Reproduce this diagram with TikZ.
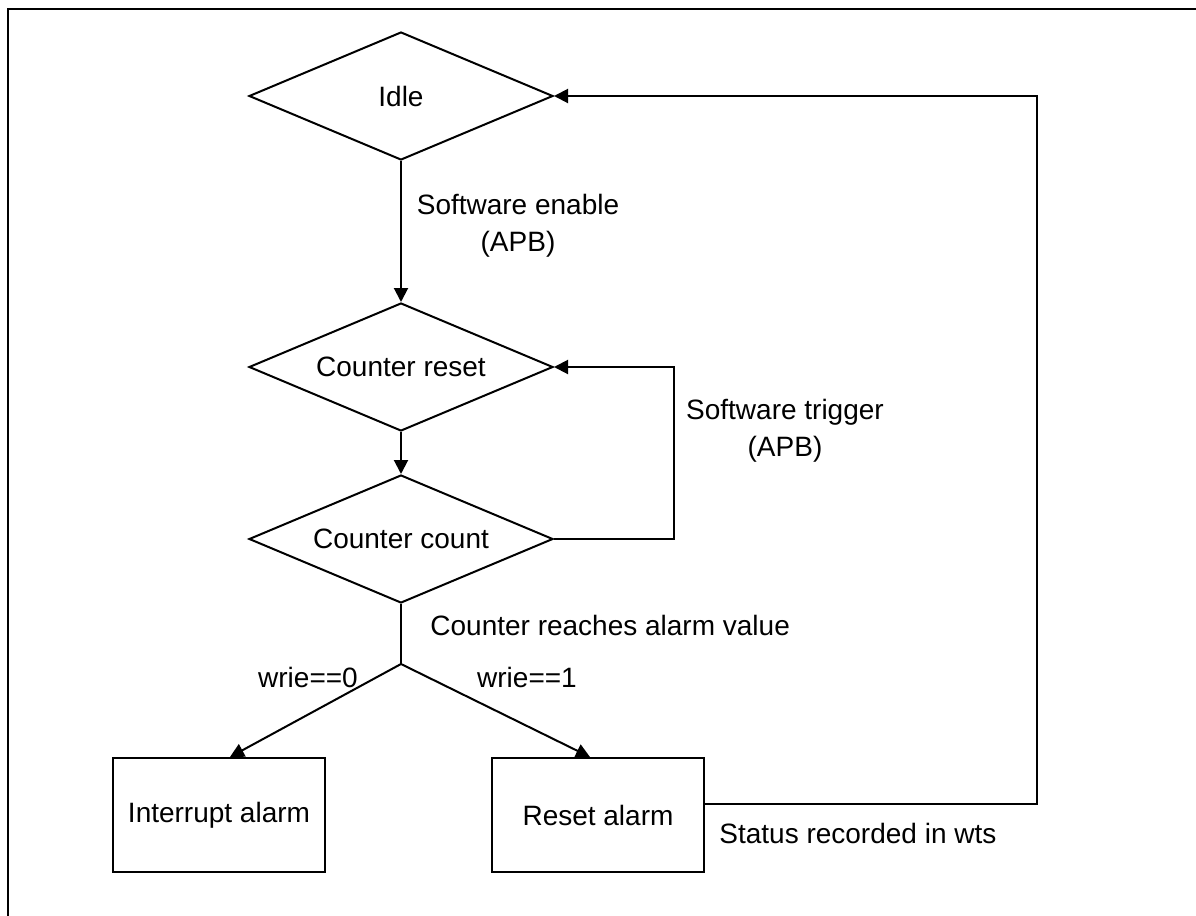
\documentclass[tikz,border=0pt]{standalone}
\usepackage{fontspec}
\setmainfont{Liberation Sans}
\usetikzlibrary{shapes.geometric,arrows.meta}
\tikzset{
  dia/.style={diamond, draw, line width=1pt, minimum width=152pt, minimum height=64pt, inner sep=0pt, aspect=2.375},
  stbox/.style={rectangle, draw, line width=1pt, minimum width=106pt, minimum height=57pt, inner sep=0pt},
  conn/.style={line width=1pt},
  arr/.style={conn, -{Triangle[length=7pt,width=7pt]}},
  lbl/.style={inner sep=0pt, align=center},
}
\begin{document}
\begin{tikzpicture}[x=0.5pt,y=-0.5pt,font=\fontsize{14}{18.5}\selectfont]
\useasboundingbox (0,0) rectangle (1196,916);
\clip (0,0) rectangle (1196,916);
\draw[line width=1.2pt] (8,9) rectangle (1300,1100);

\node[dia] (idle) at (401,96) {Idle};
\node[dia] (creset) at (401,367) {Counter reset};
\node[dia] (ccount) at (401,539) {Counter count};
\coordinate (j) at (401,664);
\node[stbox] (intr) at (219,815) {Interrupt alarm};
\node[stbox] (rst) at (598,815) {Reset alarm};

\coordinate (trig) at (674,539);
\coordinate (stat) at (1037,803.5);

\draw[arr] (idle.south) -- (creset.north);
\draw[arr] (creset.south) -- (ccount.north);
\draw[arr] (ccount.east) -- (trig) |- (creset.east);
\draw[conn] (ccount.south) -- (j);
\draw[arr] (j) -- ([xshift=5.5pt]intr.north);
\draw[arr] (j) -- ([xshift=-4pt]rst.north);
\draw[arr] ([yshift=5.75pt]rst.east) -- (stat) |- (idle.east);

\node[lbl] (l1) at (518,226) {Software enable\\(APB)};
\node[lbl] (l2) at (785,431) {Software trigger\\(APB)};
\node[lbl, anchor=west] (l3) at (430,625) {Counter reaches alarm value};
\node[lbl] (l4) at (308,677) {wrie==0};
\node[lbl] (l5) at (527,677) {wrie==1};
\node[lbl, anchor=west] (l6) at (719,833) {Status recorded in wts};
\end{tikzpicture}
\end{document}
